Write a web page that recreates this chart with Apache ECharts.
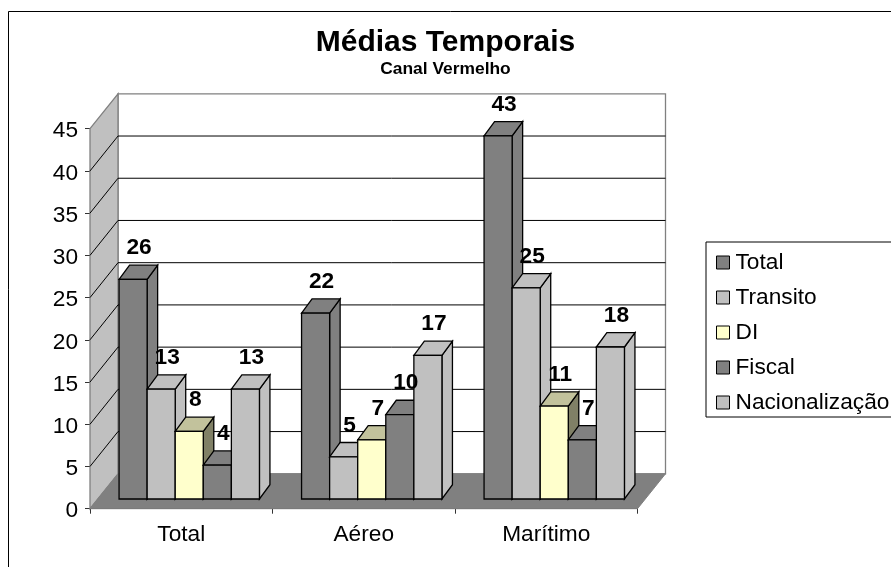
<!DOCTYPE html>
<html><head><meta charset="utf-8">
<style>html,body{margin:0;padding:0;background:#fff}#c{width:891px;height:567px}</style>
<script src="https://cdn.jsdelivr.net/npm/echarts@6/dist/echarts.min.js"></script>
</head><body><div id="c"></div>
<script>
var categories = ['Total', 'Aéreo', 'Marítimo'];
var yTicks = [0, 5, 10, 15, 20, 25, 30, 35, 40, 45];
var seriesNames = ['Total', 'Transito', 'DI', 'Fiscal', 'Nacionalização'];
var totalValues = [26, 22, 43];
var transitoValues = [13, 5, 25];
var diValues = [8, 7, 11];
var fiscalValues = [4, 10, 7];
var nacionalizacaoValues = [13, 17, 18];
var allValues = [totalValues, transitoValues, diValues, fiscalValues, nacionalizacaoValues];
var frontColors = ['#808080', '#C0C0C0', '#FFFFCC', '#808080', '#C0C0C0'];
var topColors = ['#808080', '#C0C0C0', '#C2C29C', '#808080', '#C0C0C0'];
var sideColors = ['#808080', '#C0C0C0', '#808066', '#808080', '#C0C0C0'];

var FONT = '"Liberation Sans", Arial, sans-serif';
var TEXT_SIZE = 22.7;
var WALL_DX = 28, WALL_DY = -34.9;
var BAR_FX = 8, BAR_FY = -9.7, BAR_DX = 10.5, BAR_DY = -14.3;

function poly(points, fill, stroke, lw, z2) {
  return {type: 'polygon', shape: {points: points}, z2: z2 || 0,
    style: {fill: fill, stroke: stroke, lineWidth: lw}};
}

function renderWalls(params, api) {
  var cs = params.coordSys, v = api.value(0);
  var children = [];
  var x0 = cs.x, x1 = cs.x + cs.width;
  var y = api.coord([0, v])[1];
  if (params.dataIndex === 0) {
    var yb = cs.y + cs.height, yt = cs.y;
    children.push(poly([[x0 + WALL_DX, yt + WALL_DY], [x1 + WALL_DX, yt + WALL_DY], [x1 + WALL_DX, yb + WALL_DY], [x0 + WALL_DX, yb + WALL_DY]], '#FFFFFF', '#808080', 1.3, 1));
    children.push(poly([[x0, yt], [x0 + WALL_DX, yt + WALL_DY], [x0 + WALL_DX, yb + WALL_DY], [x0, yb]], '#C0C0C0', '#808080', 1.3, 2));
  }
  if (v > 0 && v < 45) {
    children.push({type: 'line', z2: 3, shape: {x1: x0 + WALL_DX, y1: y + WALL_DY, x2: x1 + WALL_DX, y2: y + WALL_DY}, style: {stroke: '#000', lineWidth: 1}});
    children.push({type: 'line', z2: 3, shape: {x1: x0, y1: y, x2: x0 + WALL_DX, y2: y + WALL_DY}, style: {stroke: '#000', lineWidth: 1}});
  }
  if (v === 0) {
    var p = [[x0, y], [x1, y], [x1 + WALL_DX, y + WALL_DY], [x0 + WALL_DX, y + WALL_DY]];
    children.push(poly(p, '#808080', '#808080', 1, 4));
  }
  return {type: 'group', children: children};
}

function makeBarRenderer(si) {
  return function (params, api) {
    var cat = api.value(0), val = api.value(1);
    var c = api.coord([cat, val]), b = api.coord([cat, 0]);
    var band = api.size([1, 0])[0];
    var w = band / 6.5;
    var xl = c[0] + BAR_FX + (si - 2.5) * w, xr = xl + w;
    var yt = c[1] + BAR_FY, yb = b[1] + BAR_FY;
    var lw = 1.3;
    return {type: 'group', children: [
      poly([[xr, yt], [xr + BAR_DX, yt + BAR_DY], [xr + BAR_DX, yb + BAR_DY], [xr, yb]], sideColors[si], '#000', lw, 10),
      poly([[xl, yt], [xl + BAR_DX, yt + BAR_DY], [xr + BAR_DX, yt + BAR_DY], [xr, yt]], topColors[si], '#000', lw, 10),
      poly([[xl, yt], [xr, yt], [xr, yb], [xl, yb]], frontColors[si], '#000', lw, 10),
      {type: 'text', z2: 100, style: {text: String(val), x: (xl + xr) / 2 + 6, y: yt - 31.5,
        align: 'center', verticalAlign: 'middle', fill: '#000', font: 'bold ' + TEXT_SIZE + 'px ' + FONT}}
    ]};
  };
}

var series = [{
  type: 'custom', name: '_walls', renderItem: renderWalls, silent: true, z: 1,
  encode: {x: 1, y: 0},
  data: yTicks.map(function (t) { return [t, 0]; })
}];
seriesNames.forEach(function (n, si) {
  series.push({
    type: 'custom', name: n, renderItem: makeBarRenderer(si), z: 2,
    itemStyle: {color: frontColors[si]},
    encode: {x: 0, y: 1},
    data: allValues[si].map(function (v, i) { return [i, v]; })
  });
});

var chart = echarts.init(document.getElementById('c'), null, {renderer: 'canvas'});
chart.setOption({
  animation: false,
  backgroundColor: '#fff',
  title: {
    text: 'Médias Temporais', subtext: 'Canal Vermelho', left: 'center', top: 28, padding: 0, itemGap: 2.5,
    textStyle: {fontFamily: FONT, fontWeight: 'bold', fontSize: 30, color: '#000'},
    subtextStyle: {fontFamily: FONT, fontWeight: 'bold', fontSize: 17.4, color: '#000'}
  },
  legend: {
    data: seriesNames.map(function (n) { return {name: n, icon: 'rect'}; }),
    orient: 'vertical', left: 706, top: 242, padding: [9, 14, 3, 10],
    itemWidth: 13, itemHeight: 13, itemGap: 12, selectedMode: false,
    borderColor: '#000', borderWidth: 1,
    itemStyle: {borderColor: '#000', borderWidth: 1},
    textStyle: {fontFamily: FONT, fontSize: TEXT_SIZE, color: '#000', padding: [2, 0, 0, 1]}
  },
  grid: {left: 90, right: 253.5, top: 128.7, bottom: 58.3, containLabel: false},
  xAxis: {
    type: 'category', data: categories, boundaryGap: true,
    axisLine: {lineStyle: {color: '#000', width: 1}},
    axisTick: {show: true, alignWithLabel: false, length: 5, lineStyle: {color: '#333'}},
    axisLabel: {fontFamily: FONT, fontSize: TEXT_SIZE, color: '#000', margin: 15}
  },
  yAxis: {
    type: 'value', min: 0, max: 45, interval: 5,
    splitLine: {show: false},
    axisLine: {show: true, lineStyle: {color: '#808080', width: 1}},
    axisTick: {show: true, length: 5, lineStyle: {color: '#333'}},
    axisLabel: {fontFamily: FONT, fontSize: TEXT_SIZE, color: '#000', margin: 12, verticalAlign: 'top', padding: [-9, 0, 0, 0]}
  },
  graphic: [{
    type: 'rect', z: -1, silent: true,
    shape: {x: 8.5, y: 11.5, width: 1000, height: 1000},
    style: {fill: 'none', stroke: '#000', lineWidth: 1}
  }],
  series: series
});
</script></body></html>
